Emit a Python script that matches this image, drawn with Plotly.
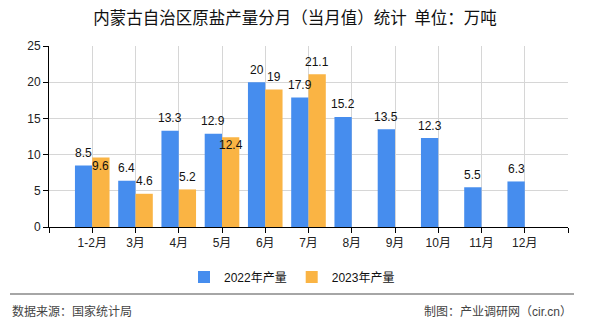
import plotly.graph_objects as go

# ---- data ----
categories = ["1-2月", "3月", "4月", "5月", "6月", "7月", "8月", "9月", "10月", "11月", "12月"]
series_2022 = [8.5, 6.4, 13.3, 12.9, 20, 17.9, 15.2, 13.5, 12.3, 5.5, 6.3]
series_2023 = [9.6, 4.6, 5.2, 12.4, 19, 21.1]
name_2022 = "2022年产量"
name_2023 = "2023年产量"
title_text = "内蒙古自治区原盐产量分月（当月值）统计  单位：万吨"
source_text = "数据来源：国家统计局"
credit_text = "制图：产业调研网（cir.cn）"
y_ticks = [0, 5, 10, 15, 20, 25]

# ---- layout constants ----
W, H = 590, 330
ML, MR, MT, MB = 49, 22, 46, 100
PW, PH = W - ML - MR, H - MT - MB
BARGAP = 0.2
BLUE = "#468DEE"
ORANGE = "#FAB444"
CJK = "Liberation Sans, Noto Sans CJK SC, sans-serif"
LABEL_FONT = "Liberation Sans, Arial, sans-serif"


def px_x(p):
    return (p - ML) / PW


def px_y(p):
    return (H - MB - p) / PH


pos = list(range(len(categories)))
fig = go.Figure()
fig.add_trace(go.Bar(x=pos, y=series_2022, name=name_2022, marker_color=BLUE,
                     marker_line_width=0))
fig.add_trace(go.Bar(x=pos[:len(series_2023)], y=series_2023, name=name_2023,
                     marker_color=ORANGE, marker_line_width=0))

# value labels above the bars (two of the 2023 labels sit lower, as in the source)
half = (1 - BARGAP) / 4
annotations = []
for i, v in enumerate(series_2022):
    annotations.append(dict(x=pos[i] - half, y=v, xref="x", yref="y", text=f"{v:g}",
                            showarrow=False, yanchor="middle", yshift=12.5,
                            font=dict(family=LABEL_FONT, size=12, color="#111")))
lowered = {0, 3}
for i, v in enumerate(series_2023):
    annotations.append(dict(x=pos[i] + half, y=v, xref="x", yref="y", text=f"{v:g}",
                            showarrow=False, yanchor="middle",
                            yshift=-8 if i in lowered else 12.5,
                            font=dict(family=LABEL_FONT, size=12, color="#111")))

# footer texts
annotations.append(dict(x=px_x(10), y=px_y(316), xref="paper", yref="paper", text=source_text,
                        showarrow=False, xanchor="left", yanchor="middle",
                        font=dict(family=CJK, size=12, color="#444")))
annotations.append(dict(x=px_x(574), y=px_y(316), xref="paper", yref="paper", text=credit_text,
                        showarrow=False, xanchor="right", yanchor="middle",
                        font=dict(family=CJK, size=12, color="#444")))

tickvals_x = [pos[0] - 1] + pos + [pos[-1] + 1]
ticktext_x = [""] + categories + [""]

fig.update_layout(
    width=W, height=H,
    margin=dict(l=ML, r=MR, t=MT, b=MB, pad=0),
    paper_bgcolor="white", plot_bgcolor="white",
    barmode="group", bargap=BARGAP, bargroupgap=0,
    title=dict(text=title_text, x=0.5, xref="container", xanchor="center",
               y=1 - 18 / H, yref="container", yanchor="middle",
               font=dict(family="Noto Sans CJK SC, sans-serif", size=16.5, color="#111")),
    font=dict(family=CJK, size=12, color="#222"),
    showlegend=True,
    legend=dict(orientation="h", xref="container", x=292 / W, xanchor="center",
                yref="container", y=1 - 277 / H, yanchor="middle",
                font=dict(family=CJK, size=12, color="#111"),
                itemsizing="constant", traceorder="normal", bgcolor="rgba(0,0,0,0)"),
    xaxis=dict(range=[tickvals_x[0], tickvals_x[-1]], tickmode="array",
               tickvals=tickvals_x, ticktext=ticktext_x,
               showgrid=True, gridcolor="#d6d6d6", gridwidth=1,
               showline=True, linecolor="#000", linewidth=1,
               ticks="outside", ticklen=5, tickcolor="#000",
               tickfont=dict(family=CJK, size=12, color="#222"), zeroline=False),
    yaxis=dict(range=[y_ticks[0], y_ticks[-1]], tickmode="array", tickvals=y_ticks,
               showgrid=True, gridcolor="#d6d6d6", gridwidth=1,
               showline=True, linecolor="#000", linewidth=1,
               ticks="outside", ticklen=5, tickcolor="#000",
               tickfont=dict(family=CJK, size=12, color="#222"), zeroline=False),
    annotations=annotations,
    shapes=[dict(type="line", xref="paper", yref="paper",
                 x0=px_x(10), x1=px_x(574), y0=px_y(298), y1=px_y(298),
                 line=dict(color="#888", width=1.5))],
)

fig.write_html("out.html")
